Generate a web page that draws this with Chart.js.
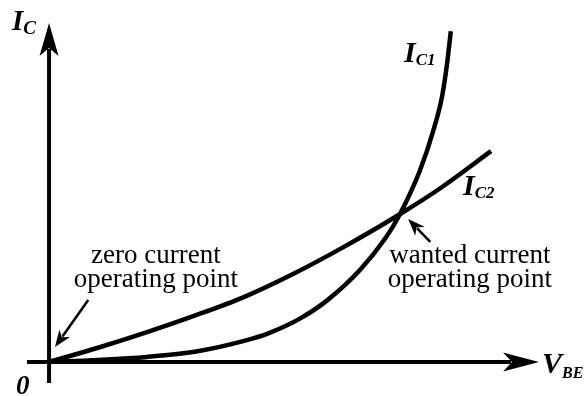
<!DOCTYPE html>
<html>
<head>
<meta charset="utf-8">
<title>IC vs VBE</title>
<script src="https://cdn.jsdelivr.net/npm/chart.js@4.4.1/dist/chart.umd.min.js"></script>
<style>
    html, body { margin: 0; padding: 0; background: #fff; }
    #wrap { width: 587px; height: 396px; }
</style>
</head>
<body>
<div id="wrap"><canvas id="chart" width="587" height="396"></canvas></div>
<script>
// V_BE / I_C in arbitrary units
const ic1Vbe = [0, 10, 20, 30, 40, 45, 51.2, 56.7, 63.5, 68.6, 71.5, 75.7, 78.4, 80.2, 81.2, 82];
const ic1Val = [0, 0.6, 1.5, 3.1, 6.3, 8.6, 12.8, 18.1, 27.2, 36.4, 43.3, 56.5, 68.1, 78.2, 87.6, 97.6];

const ic2Vbe = [0, 10, 20, 30, 40, 50, 60, 71.5, 80, 90.2];
const ic2Val = [0, 4.2, 8.8, 13.8, 19.3, 26.1, 33.8, 43.5, 51.4, 62.2];

const seriesNames = ['IC1', 'IC2'];

function toPoints(xs, ys) {
    return xs.map((x, i) => ({ x: x, y: ys[i] }));
}

// filled arrowhead with a notched back
function arrowHead(ctx, x0, y0, x1, y1, len, halfW, notch) {
    const a = Math.atan2(y1 - y0, x1 - x0);
    const c = Math.cos(a), s = Math.sin(a);
    const bx = x1 - c * len, by = y1 - s * len;
    const nx = x1 - c * notch, ny = y1 - s * notch;
    ctx.beginPath();
    ctx.moveTo(x1, y1);
    ctx.lineTo(bx - s * halfW, by + c * halfW);
    ctx.lineTo(nx, ny);
    ctx.lineTo(bx + s * halfW, by - c * halfW);
    ctx.closePath();
    ctx.fill();
}

function arrow(ctx, x0, y0, x1, y1, width, len, halfW, notch) {
    const a = Math.atan2(y1 - y0, x1 - x0);
    ctx.lineWidth = width;
    ctx.beginPath();
    ctx.moveTo(x0, y0);
    ctx.lineTo(x1 - Math.cos(a) * (notch + 1), y1 - Math.sin(a) * (notch + 1));
    ctx.stroke();
    arrowHead(ctx, x0, y0, x1, y1, len, halfW, notch);
}

// "I" + subscript style label
function subLabel(ctx, main, sub, x, y, mainSize, subSize, drop) {
    ctx.textAlign = 'left';
    ctx.textBaseline = 'alphabetic';
    ctx.font = 'italic bold ' + mainSize + 'px "Liberation Serif"';
    ctx.fillText(main, x, y);
    const w = ctx.measureText(main).width;
    ctx.font = 'italic bold ' + subSize + 'px "Liberation Serif"';
    ctx.fillText(sub, x + w, y + drop);
}

const diagramPlugin = {
    id: 'diagram',
    afterDatasetsDraw(chart) {
        const ctx = chart.ctx;
        const xs = chart.scales.x, ys = chart.scales.y;
        const px = v => xs.getPixelForValue(v);
        const py = v => ys.getPixelForValue(v);

        ctx.save();
        ctx.fillStyle = '#000';
        ctx.strokeStyle = '#000';
        ctx.lineCap = 'butt';

        // axes
        arrow(ctx, px(xs.min), py(0), px(xs.max), py(0), 4, 36, 9.5, 27);
        arrow(ctx, px(0), py(ys.min), px(0), py(ys.max), 4, 33, 9.5, 25);

        // annotation arrows
        arrow(ctx, px(8), py(18.3), px(1.2), py(4.4), 2.5, 17, 6.5, 12);
        arrow(ctx, px(77.8), py(35.4), px(73.3), py(42.2), 2.5, 17, 6.5, 12);

        // annotation text
        ctx.font = '27px "Liberation Serif"';
        ctx.textAlign = 'center';
        ctx.textBaseline = 'alphabetic';
        ctx.fillText('zero current', px(21.8), py(29.2));
        ctx.fillText('operating point', px(21.8), py(22.1));
        ctx.fillText('wanted current', px(85.9), py(29.2));
        ctx.fillText('operating point', px(85.9), py(22.1));

        // axis and curve labels
        subLabel(ctx, 'I', 'C', 12, 30, 29, 19, 4);
        subLabel(ctx, 'V', 'BE', 542, 373, 30, 16, 5);
        subLabel(ctx, 'I', 'C1', 404, 62, 30, 17, 3);
        subLabel(ctx, 'I', 'C2', 463, 195, 30, 17, 3);
        ctx.font = 'italic bold 27px "Liberation Serif"';
        ctx.fillText('0', 16, 394);

        ctx.restore();
    }
};

new Chart(document.getElementById('chart').getContext('2d'), {
    type: 'line',
    data: {
        datasets: [
            {
                label: seriesNames[0],
                data: toPoints(ic1Vbe, ic1Val),
                borderColor: '#000',
                borderWidth: 4.5,
                pointRadius: 0,
                cubicInterpolationMode: 'monotone',
                fill: false
            },
            {
                label: seriesNames[1],
                data: toPoints(ic2Vbe, ic2Val),
                borderColor: '#000',
                borderWidth: 4.5,
                pointRadius: 0,
                cubicInterpolationMode: 'monotone',
                fill: false
            }
        ]
    },
    options: {
        responsive: false,
        animation: false,
        layout: { padding: { left: 27, right: 48, top: 23, bottom: 13 } },
        plugins: {
            legend: { display: false },
            tooltip: { enabled: false }
        },
        scales: {
            x: { type: 'linear', min: -4.5, max: 100, display: false },
            y: { type: 'linear', min: -6.2, max: 100, display: false }
        }
    },
    plugins: [diagramPlugin]
});
</script>
</body>
</html>
